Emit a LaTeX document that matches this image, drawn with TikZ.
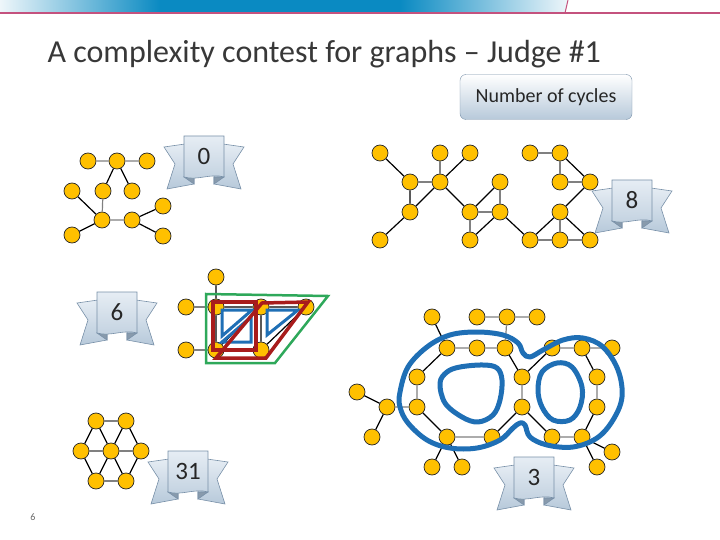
\documentclass[tikz,border=0pt]{standalone}
\usepackage{fontspec}
\setmainfont{Carlito}
\definecolor{gold}{HTML}{FFC000}
\definecolor{bardark}{HTML}{0A8AC2}
\definecolor{barlight}{HTML}{EEF6FA}
\definecolor{pinkline}{HTML}{C4527E}
\definecolor{loopblue}{HTML}{1F6FB5}
\definecolor{cycred}{HTML}{A81C1C}
\definecolor{cycgreen}{HTML}{2EA85A}
\definecolor{ribtop}{HTML}{E6EDF4}
\definecolor{ribbot}{HTML}{B7C9DA}
\definecolor{ribline}{HTML}{7890A8}
\begin{document}
\begin{tikzpicture}[x=1pt,y=-1pt,
  vtx/.style={circle,draw=black!85,fill=gold,minimum size=16pt,inner sep=0pt,line width=0.7pt},
  link/.style={draw=black,line width=1.2pt},
  glink/.style={draw=gray,line width=1.2pt},
  num/.style={font=\fontsize{25}{25}\selectfont,text=black!85},
  tail/.style={draw=ribline,line width=0.6pt,top color=ribtop,bottom color=ribbot},
  fold/.style={draw=ribline,line width=0.6pt,fill=ribbot!80!black!60!ribline},
  panel/.style={draw=ribline,line width=0.6pt,top color=ribtop,bottom color=ribbot!85},
  cycle line/.style={line width=5pt,draw=loopblue,line join=round},
  ribbon/.pic={
    \foreach \s in {1,-1}{
      \begin{scope}[xscale=\s]
        \draw[tail] (-12,-14) -- (-40,-10) -- (-29,7) -- (-37,32) -- (-10,27) -- (-10,17) -- cycle;
        \draw[fold] (-20,20) -- (-10,27) -- (-10,20) -- cycle;
      \end{scope}}
    \draw[panel] (-20,-21) -- (20,-21) -- (20,20) .. controls (7,16) and (-7,24) .. (-20,20) -- cycle;
  }]
\useasboundingbox (0,0) rectangle (720,540);

% header bar
\shade[left color=barlight,right color=bardark] (0,0) rectangle (160,12);
\fill[bardark] (160,0) rectangle (400,12);
\shade[left color=bardark,right color=barlight] (400,0) -- (568,0) -- (565,12) -- (400,12) -- cycle;
\draw[pinkline,line width=1pt] (568,0) -- (565,13);
\draw[pinkline,line width=2pt] (0,13) -- (720,13);

\node[anchor=base west,font=\fontsize{32}{32}\selectfont,text=black!78] (title) at (44,63)
  {A complexity contest for graphs -- Judge \#1};
\node[draw=ribline,rounded corners=6pt,top color=white,bottom color=ribbot,
  minimum width=172pt,minimum height=45pt,font=\fontsize{20}{20}\selectfont,text=black!85]
  (judge) at (546,97) {Number of cycles};
\node[font=\fontsize{10}{10}\selectfont,text=black!60] (page) at (33,517) {6};

% graph with 0 cycles
\node[vtx] (a1) at (88,161) {};
\node[vtx] (a2) at (117,161) {};
\node[vtx] (a3) at (147,161) {};
\node[vtx] (a4) at (72,191) {};
\node[vtx] (a5) at (103,191) {};
\node[vtx] (a6) at (132,191) {};
\node[vtx] (a7) at (163,206) {};
\node[vtx] (a8) at (102,220) {};
\node[vtx] (a9) at (132,220) {};
\node[vtx] (a10) at (72,235) {};
\node[vtx] (a11) at (163,236) {};
\draw[glink] (a1) -- (a2) (a2) -- (a3) (a5) -- (a8) (a8) -- (a9);
\draw[link] (a2) -- (a5) (a2) -- (a6) (a4) -- (a8) (a8) -- (a10) (a9) -- (a7) (a9) -- (a11);
\pic at (204,157) {ribbon};
\node[num] (r0) at (204,156) {0};

% graph with 8 cycles
\node[vtx] (b1) at (380,153) {};
\node[vtx] (b2) at (440,153) {};
\node[vtx] (b3) at (470,153) {};
\node[vtx] (b4) at (530,153) {};
\node[vtx] (b5) at (560,153) {};
\node[vtx] (b6) at (410,182) {};
\node[vtx] (b7) at (440,182) {};
\node[vtx] (b8) at (500,182) {};
\node[vtx] (b9) at (560,182) {};
\node[vtx] (b10) at (590,182) {};
\node[vtx] (b11) at (410,212) {};
\node[vtx] (b12) at (470,212) {};
\node[vtx] (b13) at (500,212) {};
\node[vtx] (b14) at (560,212) {};
\node[vtx] (b15) at (380,240) {};
\node[vtx] (b16) at (470,240) {};
\node[vtx] (b17) at (530,240) {};
\node[vtx] (b18) at (560,240) {};
\node[vtx] (b19) at (590,240) {};
\draw[glink] (b6) -- (b7) (b2) -- (b7) (b12) -- (b13) (b8) -- (b13) (b12) -- (b16)
  (b17) -- (b18) (b18) -- (b19) (b14) -- (b18) (b9) -- (b10) (b4) -- (b5) (b5) -- (b9);
\draw[link] (b1) -- (b6) (b3) -- (b7) (b6) -- (b11) (b7) -- (b11) (b7) -- (b12) (b11) -- (b15)
  (b8) -- (b12) (b13) -- (b16) (b13) -- (b17) (b17) -- (b14) (b14) -- (b19) (b14) -- (b10) (b5) -- (b10);
\pic at (632,201) {ribbon};
\node[num] (r8) at (632,200) {8};

% graph with 6 cycles
\node[vtx] (c1) at (216,277) {};
\node[vtx] (c2) at (186,307) {};
\node[vtx] (c3) at (216,307) {};
\node[vtx] (c4) at (261,307) {};
\node[vtx] (c5) at (306,307) {};
\node[vtx] (c6) at (186,350) {};
\node[vtx] (c7) at (216,350) {};
\node[vtx] (c8) at (261,350) {};
\draw[glink] (c2) -- (c3) (c6) -- (c7);
\draw[link] (c1) -- (c3) (c3) -- (c4) (c4) -- (c5) (c3) -- (c7) (c4) -- (c8) (c7) -- (c8)
  (c7) -- (c4) (c5) -- (c8);
\draw[cycgreen,line width=2.5pt] (206,294) -- (328,296) -- (275,363) -- (206,363) -- cycle;
\draw[loopblue,line width=3pt] (222,310) -- (252,310) -- (222,336) -- cycle;
\draw[loopblue,line width=3pt] (222,342) -- (251,342) -- (251,317) -- cycle;
\draw[loopblue,line width=3pt] (267,310) -- (298,310) -- (267,335) -- cycle;
\draw[cycred,line width=3.5pt] (213,302) rectangle (256,350);
\draw[cycred,line width=3.5pt] (216,358) -- (262,303) -- (308,302) -- (266,358) -- cycle;
\pic at (117,313) {ribbon};
\node[num] (r6) at (117,312) {6};

% graph with 31 cycles
\node[vtx] (d1) at (96,421) {};
\node[vtx] (d2) at (126,421) {};
\node[vtx] (d3) at (81,451) {};
\node[vtx] (d4) at (111,451) {};
\node[vtx] (d5) at (141,451) {};
\node[vtx] (d6) at (96,481) {};
\node[vtx] (d7) at (126,481) {};
\draw[glink] (d1) -- (d2) (d3) -- (d4) (d4) -- (d5) (d6) -- (d7);
\draw[link] (d1) -- (d3) (d1) -- (d4) (d2) -- (d4) (d2) -- (d5) (d3) -- (d6) (d4) -- (d6)
  (d4) -- (d7) (d5) -- (d7);
\pic at (188,472) {ribbon};
\node[num] (r31) at (188,471) {31};

% graph with 3 cycles
\node[vtx] (e1) at (432,317) {};
\node[vtx] (e2) at (477,317) {};
\node[vtx] (e3) at (507,317) {};
\node[vtx] (e4) at (537,317) {};
\node[vtx] (e5) at (447,348) {};
\node[vtx] (e6) at (477,348) {};
\node[vtx] (e7) at (505,348) {};
\node[vtx] (e8) at (552,348) {};
\node[vtx] (e9) at (582,348) {};
\node[vtx] (e10) at (612,348) {};
\node[vtx] (e11) at (417,377) {};
\node[vtx] (e12) at (522,377) {};
\node[vtx] (e13) at (597,377) {};
\node[vtx] (e14) at (357,392) {};
\node[vtx] (e15) at (387,407) {};
\node[vtx] (e16) at (417,407) {};
\node[vtx] (e17) at (522,407) {};
\node[vtx] (e18) at (597,407) {};
\node[vtx] (e19) at (372,437) {};
\node[vtx] (e20) at (447,437) {};
\node[vtx] (e21) at (492,437) {};
\node[vtx] (e22) at (552,437) {};
\node[vtx] (e23) at (582,437) {};
\node[vtx] (e24) at (612,452) {};
\node[vtx] (e25) at (432,467) {};
\node[vtx] (e26) at (462,467) {};
\node[vtx] (e27) at (597,467) {};
\draw[glink] (e2) -- (e3) (e3) -- (e4) (e3) -- (e7) (e5) -- (e6) (e6) -- (e7) (e8) -- (e9)
  (e9) -- (e10) (e13) -- (e18) (e23) -- (e22) (e12) -- (e17) (e21) -- (e20) (e16) -- (e11)
  (e16) -- (e15);
\draw[link] (e1) -- (e5) (e7) -- (e12) (e12) -- (e8) (e9) -- (e13) (e18) -- (e23) (e22) -- (e17)
  (e17) -- (e21) (e20) -- (e16) (e11) -- (e5) (e15) -- (e14) (e15) -- (e19) (e20) -- (e25)
  (e20) -- (e26) (e23) -- (e24) (e23) -- (e27);
\draw[cycle line] plot[smooth cycle,tension=0.6] coordinates {
  (400,392) (408,367) (427,347) (450,335) (477,332) (503,335) (518,343) (523,353) (530,357)
  (543,350) (563,340) (583,338) (603,347) (618,370) (622,397) (613,420) (597,438) (573,447)
  (547,445) (530,437) (525,425) (520,423) (513,428) (500,440) (477,448) (450,448) (427,440)
  (408,423) (400,407)};
\draw[cycle line] plot[smooth cycle,tension=0.6] coordinates {
  (440,383) (447,372) (460,367) (483,365) (497,368) (502,380) (500,400) (493,415) (478,422)
  (462,417) (445,403)};
\draw[cycle line] plot[smooth cycle,tension=0.6] coordinates {
  (538,390) (542,372) (557,363) (572,367) (582,387) (580,407) (570,420) (553,420) (542,407)};
\pic at (534,478) {ribbon};
\node[num] (r3) at (534,477) {3};
\end{tikzpicture}
\end{document}
